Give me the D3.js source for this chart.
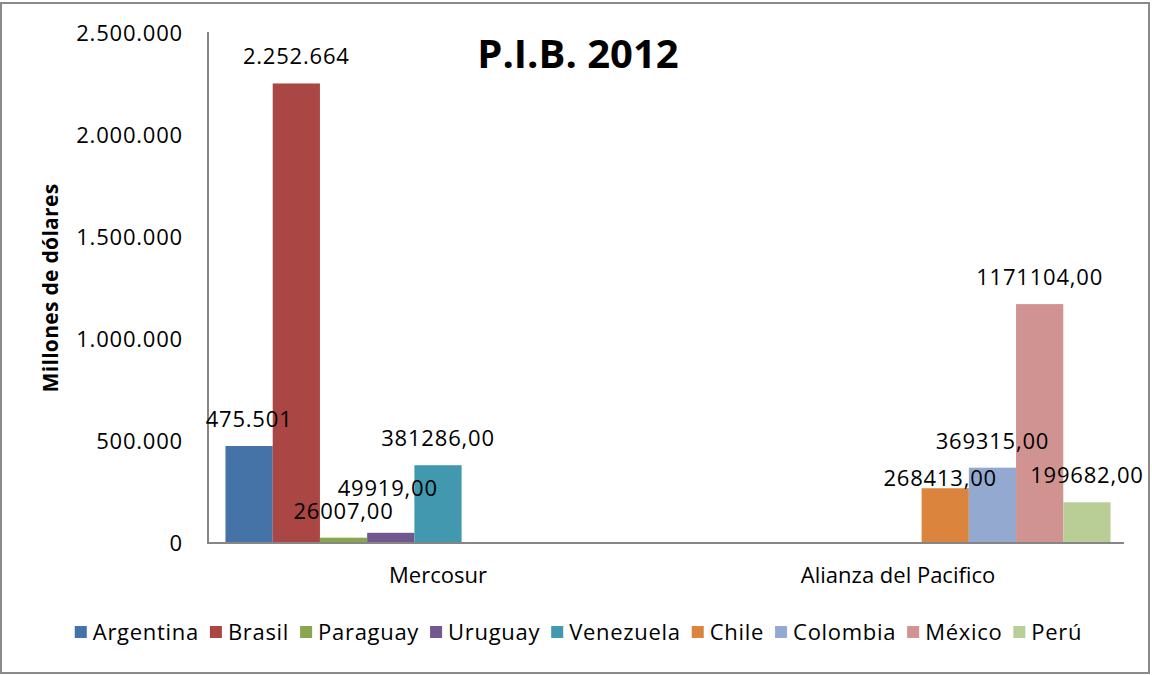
<!DOCTYPE html>
<html><head><meta charset="utf-8">
<script src="https://cdn.jsdelivr.net/npm/d3@7"></script>
<style>body{margin:0;background:#fff}svg{display:block}</style>
</head><body>
<svg id="c" width="1152" height="675"></svg>
<script>
const categories = ["Mercosur", "Alianza del Pacifico"];
const seriesNames = ["Argentina","Brasil","Paraguay","Uruguay","Venezuela","Chile","Colombia","México","Perú"];
const seriesColors = ["#4572A7","#AA4643","#89A54E","#71588F","#4198AF","#DB843D","#93A9CF","#D19392","#B9CD96"];
// value per series for [Mercosur, Alianza del Pacifico]; null = no bar
const mercosurValues = [475501, 2252664, 26007, 49919, 381286, null, null, null, null];
const alianzaValues  = [null, null, null, null, null, 268413, 369315, 1171104, 199682];
// label style per series: "int" -> 475.501 , "dec" -> 26007,00
const labelStyles = ["int","int","dec","dec","dec","dec","dec","dec","dec"];
const yTicks = [0, 500000, 1000000, 1500000, 2000000, 2500000];
const titleText = "P.I.B. 2012";
const yTitle = "Millones de dólares";

// manual nudges of data labels, as in the original (px)
const labelNudgeY = {Uruguay: -18, Chile: 17};
const labelNudgeX = {Chile: -5, Uruguay: -3};

const loc = d3.formatLocale({decimal: ",", thousands: ".", grouping: [3], currency: ["$",""]});
const fInt = loc.format(",.0f");
const fDec = loc.format(".2f");

const svg = d3.select("#c");
const FONT = "'Open Sans', sans-serif";
const pLeft = 208, pRight = 1128, pTop = 33, pBottom = 543;

svg.append("rect").attr("x",1).attr("y",3).attr("width",1148).attr("height",670)
  .attr("fill","#fff").attr("stroke","#8a8a8a").attr("stroke-width",2);

const y = d3.scaleLinear().domain([0, 2500000]).range([pBottom, pTop]);
const x0 = d3.scaleBand().domain(categories).range([pLeft, pRight]).paddingInner(0.076).paddingOuter(0.038);
const x1 = d3.scaleBand().domain(seriesNames).range([0, x0.bandwidth()]);

const table = [mercosurValues, alianzaValues];
const points = [];
categories.forEach((c, ci) => seriesNames.forEach((s, si) => {
  const v = table[ci][si];
  if (v != null) points.push({c, s, si, v});
}));

// y axis
const yAxis = d3.axisLeft(y).tickValues(yTicks).tickFormat(fInt).tickSize(0).tickPadding(25);
const ga = svg.append("g").attr("transform",`translate(${pLeft},0)`).call(yAxis);
ga.select(".domain").remove();
ga.selectAll("text").attr("font-family",FONT).attr("font-size",22).attr("letter-spacing",0.8).attr("fill","#000");

// bars
svg.append("g").selectAll("rect").data(points).join("rect")
  .attr("x", d => x0(d.c) + x1(d.s)).attr("y", d => y(d.v))
  .attr("width", x1.bandwidth()).attr("height", d => y(0) - y(d.v))
  .attr("fill", d => seriesColors[d.si]);

// axis lines
svg.append("line").attr("x1",pLeft).attr("x2",pLeft).attr("y1",pTop-1).attr("y2",pBottom+1)
  .attr("stroke","#868686").attr("stroke-width",2);
svg.append("line").attr("x1",pLeft).attr("x2",pRight-4).attr("y1",pBottom).attr("y2",pBottom)
  .attr("stroke","#868686").attr("stroke-width",2);

// data labels
svg.append("g").selectAll("text").data(points).join("text")
  .attr("x", d => x0(d.c) + x1(d.s) + x1.bandwidth()/2 + (labelNudgeX[d.s] || 0))
  .attr("y", d => y(d.v) - 19 + (labelNudgeY[d.s] || 0))
  .attr("text-anchor","middle").attr("font-family",FONT).attr("font-size",22).attr("letter-spacing",0.8)
  .attr("fill","#000")
  .text(d => labelStyles[d.si] === "int" ? fInt(d.v) : fDec(d.v));

// category labels
const xAxis = d3.axisBottom(x0).tickSize(0).tickPadding(24);
const gx = svg.append("g").attr("transform",`translate(0,${pBottom})`).call(xAxis);
gx.select(".domain").remove();
gx.selectAll("text").attr("font-family",FONT).attr("font-size",22).attr("fill","#000");

// title
svg.append("text").attr("x",578).attr("y",68).attr("text-anchor","middle")
  .attr("font-family",FONT).attr("font-weight","bold").attr("font-size",40).text(titleText);

// y title
svg.append("text").attr("transform","translate(58,288) rotate(-90)").attr("text-anchor","middle")
  .attr("font-family",FONT).attr("font-weight","bold").attr("font-size",21).attr("letter-spacing",0.3).text(yTitle);

// legend
const lg = svg.append("g");
let cx = 0;
seriesNames.forEach((s, i) => {
  const it = lg.append("g").attr("transform",`translate(${cx},0)`);
  it.append("rect").attr("x",0).attr("y",-12).attr("width",12).attr("height",12).attr("fill",seriesColors[i]);
  const t = it.append("text").attr("x",18).attr("y",2).attr("font-family",FONT).attr("font-size",22)
    .attr("letter-spacing",0.7).text(s);
  cx += 18 + t.node().getComputedTextLength() + 11;
});
const totalW = cx - 11;
lg.attr("transform",`translate(${578.5 - totalW/2},638)`);
</script>
</body></html>
